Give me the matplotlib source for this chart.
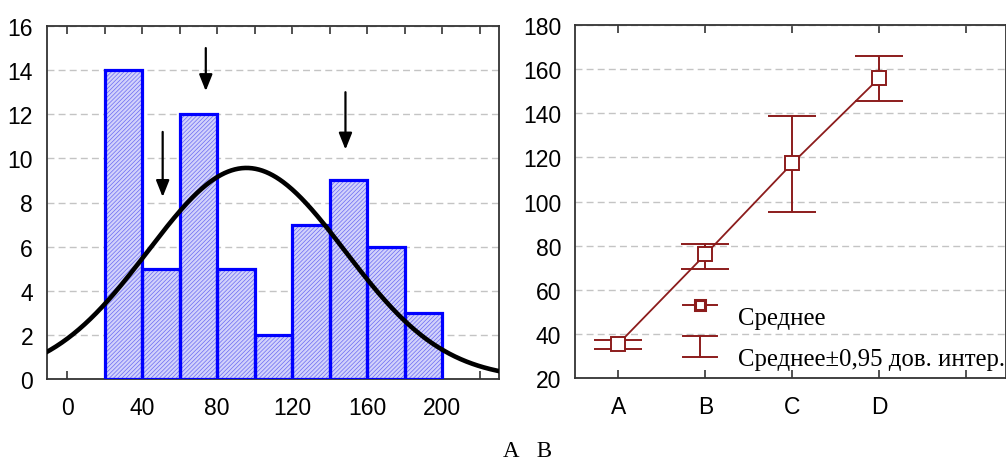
import numpy as np
import matplotlib
matplotlib.use("Agg")
import matplotlib.pyplot as plt
from matplotlib.lines import Line2D
from matplotlib.legend_handler import HandlerBase

# ---------------- data ----------------
bin_edges = [20, 40, 60, 80, 100, 120, 140, 160, 180, 200]
bin_counts = [14, 5, 12, 5, 2, 7, 9, 6, 3]
arrow_x = [51, 74, 148.5]
arrow_top = [11.2, 15.0, 13.0]
arrow_tip = [8.25, 13.05, 10.4]

groups = ["A", "B", "C", "D"]
means = [35.5, 76.0, 117.3, 155.9]
ci_low = [33.2, 69.4, 95.4, 145.4]
ci_high = [37.0, 80.7, 138.6, 166.1]

left_xticks = [0, 40, 80, 120, 160, 200]
left_yticks = [0, 2, 4, 6, 8, 10, 12, 14, 16]
right_yticks = [20, 40, 60, 80, 100, 120, 140, 160, 180]
legend_labels = ["Среднее", "Среднее±0,95 дов. интер."]
caption = "А   В"

# ---------------- style ----------------
plt.rcParams["font.family"] = ["Liberation Sans", "DejaVu Sans"]
plt.rcParams["hatch.linewidth"] = 0.5
DARKRED = "#8c1c1c"
GRID = "#c4c4c4"
TICKFS = 16.5
SERIF = ["Liberation Serif", "DejaVu Serif"]

fig = plt.figure(figsize=(10.06, 4.64), dpi=100)

# ---------------- left: histogram ----------------
ax1 = fig.add_axes([47 / 1006, (464 - 380) / 464, (499 - 47) / 1006, (380 - 27) / 464])
edges = np.array(bin_edges, dtype=float)
counts = np.array(bin_counts, dtype=float)
lefts = edges[:-1]
widths = np.diff(edges)
ax1.bar(lefts, counts, width=widths, align="edge", facecolor="#d2d2fb",
        edgecolor="#6a6af2", hatch="////////", linewidth=0, zorder=2)
ax1.bar(lefts, counts, width=widths, align="edge", facecolor="none",
        edgecolor="#0000ff", linewidth=2.3, zorder=3)

mids = (edges[:-1] + edges[1:]) / 2
n = counts.sum()
mu = (mids * counts).sum() / n
sd = np.sqrt(((mids - mu) ** 2 * counts).sum() / n)
bw = widths[0]
xs = np.linspace(-12, 232, 400)
ys = n * bw / (sd * np.sqrt(2 * np.pi)) * np.exp(-(xs - mu) ** 2 / (2 * sd ** 2))
ax1.plot(xs, ys, color="black", lw=3.3, zorder=4, solid_capstyle="round")

for x, yt, yp in zip(arrow_x, arrow_top, arrow_tip):
    ax1.annotate("", xy=(x, yp), xytext=(x, yt),
                 arrowprops=dict(arrowstyle="-|>,head_length=1.0,head_width=0.4",
                                 lw=1.6, color="black", shrinkA=0, shrinkB=0),
                 zorder=5)

ax1.set_xlim(-10.7, 230.4)
ax1.set_ylim(0, 16)
ax1.set_xticks(left_xticks)
ax1.set_xticks(np.arange(-0, 240, 20), minor=True)
ax1.set_yticks(left_yticks)
ax1.yaxis.grid(True, color=GRID, linestyle=(0, (5, 3)), lw=1.0, zorder=0)
ax1.set_axisbelow(True)
ax1.tick_params(axis="x", which="both", direction="in", top=True, bottom=True,
                length=6, width=1.2, color="#333333", labelsize=TICKFS, pad=12)
ax1.tick_params(axis="y", length=0, labelsize=TICKFS, pad=10)
for s in ax1.spines.values():
    s.set_color("#333333")
    s.set_linewidth(1.3)

# ---------------- right: means with CI ----------------
ax2 = fig.add_axes([575 / 1006, (464 - 379) / 464, (1006 - 575) / 1006, (379 - 26) / 464])
xpos = np.arange(len(groups))
m = np.array(means)
yerr = np.vstack([m - np.array(ci_low), np.array(ci_high) - m])
ax2.plot(xpos, m, color=DARKRED, lw=1.3, zorder=3)
ax2.errorbar(xpos, m, yerr=yerr, fmt="none", ecolor=DARKRED, elinewidth=1.4,
             capsize=17.5, capthick=1.4, zorder=4)
ax2.plot(xpos, m, linestyle="none", marker="s", markersize=9.5,
         markerfacecolor="white", markeredgecolor=DARKRED, markeredgewidth=1.4, zorder=5)

ax2.set_xlim(-0.5, 4.46)
ax2.set_ylim(20, 180)
ax2.set_xticks(list(xpos) + [4])
ax2.set_xticklabels(groups + [""])
ax2.set_yticks(right_yticks)
ax2.yaxis.grid(True, color=GRID, linestyle=(0, (5, 3)), lw=1.0, zorder=0)
ax2.set_axisbelow(True)
ax2.tick_params(axis="x", direction="in", top=True, bottom=True, length=6,
                width=1.2, color="#333333", labelsize=TICKFS, pad=12)
ax2.tick_params(axis="y", length=0, labelsize=TICKFS, pad=10)
for s in ax2.spines.values():
    s.set_color("#333333")
    s.set_linewidth(1.3)

HANDLE_SHIFT = 7.5  # points, handles sit a bit above the text


class HandlerMean(HandlerBase):
    def create_artists(self, legend, orig_handle, xdescent, ydescent,
                       width, height, fontsize, trans):
        cy = -ydescent + height / 2 + HANDLE_SHIFT
        x0, x1 = -xdescent, -xdescent + width
        ln = Line2D([x0, x1], [cy, cy], color=DARKRED, lw=1.4)
        mk = Line2D([(x0 + x1) / 2], [cy], linestyle="none", marker="s",
                    markersize=6.5, markerfacecolor="white",
                    markeredgecolor=DARKRED, markeredgewidth=2.2)
        for a in (ln, mk):
            a.set_transform(trans)
        return [ln, mk]


class HandlerCI(HandlerBase):
    def create_artists(self, legend, orig_handle, xdescent, ydescent,
                       width, height, fontsize, trans):
        cy = -ydescent + height / 2 + HANDLE_SHIFT
        cx = -xdescent + width / 2
        y0, y1 = cy - 7.5, cy + 7.5
        x0, x1 = -xdescent, -xdescent + width
        arts = [Line2D([cx, cx], [y0, y1]), Line2D([x0, x1], [y0, y0]),
                Line2D([x0, x1], [y1, y1])]
        for a in arts:
            a.set_color(DARKRED)
            a.set_linewidth(1.4)
            a.set_transform(trans)
        return arts


class MeanKey: pass
class CIKey: pass


FS_LEG = 17.8
leg = ax2.legend([MeanKey(), CIKey()], legend_labels,
                 handler_map={MeanKey: HandlerMean(), CIKey: HandlerCI()},
                 loc="upper left", bbox_to_anchor=(0.250, 0.201), frameon=False,
                 prop={"family": SERIF, "size": FS_LEG},
                 handlelength=24.5 / FS_LEG, handleheight=0.7,
                 handletextpad=15.5 / FS_LEG,
                 labelspacing=0.75, borderpad=0, borderaxespad=0)

fig.text(0.524, (464 - 452) / 464, caption, ha="center", va="center",
         fontsize=16.5, family=SERIF)

fig.savefig("out.png", dpi=100)
